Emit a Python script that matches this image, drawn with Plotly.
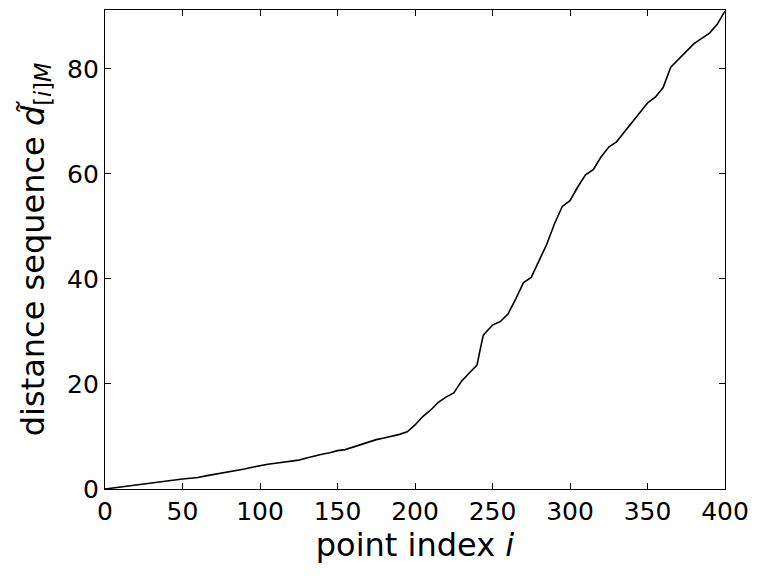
import plotly.graph_objects as go

idx = [0, 5, 10, 15, 20, 25, 30, 35, 40, 45, 50, 55, 60, 65, 70, 75, 80, 85, 90, 95,
       100, 105, 110, 115, 120, 125, 130, 135, 140, 145, 150, 155, 160, 165, 170, 175,
       180, 185, 190, 195, 200, 205, 210, 215, 220, 225, 230, 235, 240, 242, 244, 245,
       250, 255, 260, 265, 270, 275, 280, 285, 290, 295, 300, 305, 310, 315, 320, 325,
       330, 335, 340, 345, 350, 355, 360, 365, 370, 375, 380, 385, 390, 395, 400]
dist = [0.0, 0.2, 0.35, 0.55, 0.75, 0.95, 1.15, 1.3, 1.5, 1.7, 1.9, 2.05, 2.2, 2.5,
        2.75, 3.1, 3.35, 3.55, 3.8, 4.15, 4.5, 4.7, 4.9, 5.1, 5.25, 5.5, 5.9, 6.3, 6.6,
        6.9, 7.3, 7.5, 8.0, 8.5, 8.9, 9.4, 9.7, 10.0, 10.4, 10.9, 12.2, 13.8, 15.0, 16.5,
        17.5, 18.3, 20.5, 22.1, 23.6, 26.5, 29.2, 29.6, 31.2, 31.9, 33.3, 36.2, 39.3,
        40.3, 43.6, 46.6, 50.5, 53.8, 54.9, 57.5, 59.8, 60.8, 63.2, 65.1, 66.1, 67.9,
        69.8, 71.6, 73.5, 74.6, 76.4, 80.3, 81.8, 83.4, 84.8, 85.8, 86.8, 88.5, 91.0]

x_ticks = [0, 50, 100, 150, 200, 250, 300, 350, 400]
y_ticks = [0, 20, 40, 60, 80]

fig = go.Figure()
fig.add_trace(go.Scatter(x=idx, y=dist, mode="lines",
                         line=dict(color="black", width=1.6), showlegend=False))

axis_common = dict(showgrid=False, zeroline=False, showline=True, linecolor="black",
                   linewidth=1.2, mirror="ticks", ticks="inside", ticklen=6,
                   tickwidth=1, tickcolor="black",
                   tickfont=dict(family="DejaVu Sans", size=25, color="black"))

fig.update_layout(
    width=761, height=578,
    margin=dict(l=105, r=36, t=10, b=89),
    paper_bgcolor="white", plot_bgcolor="white",
    xaxis=dict(range=[0, 400], tickvals=x_ticks,
               title=dict(text="point index <i>i</i>",
                          font=dict(family="DejaVu Sans", size=32, color="black"),
                          standoff=6),
               **axis_common),
    yaxis=dict(range=[0, 91.2], tickvals=y_ticks,
               title=dict(text="distance sequence <i>d̃</i><sub>[<i>i</i>]<i>M</i></sub>",
                          font=dict(family="DejaVu Sans", size=32, color="black"),
                          standoff=12),
               **axis_common),
)

fig.write_html("out.html",
               config={"displayModeBar": False},
               post_script="document.body.style.margin='0';document.body.style.padding='0';")
